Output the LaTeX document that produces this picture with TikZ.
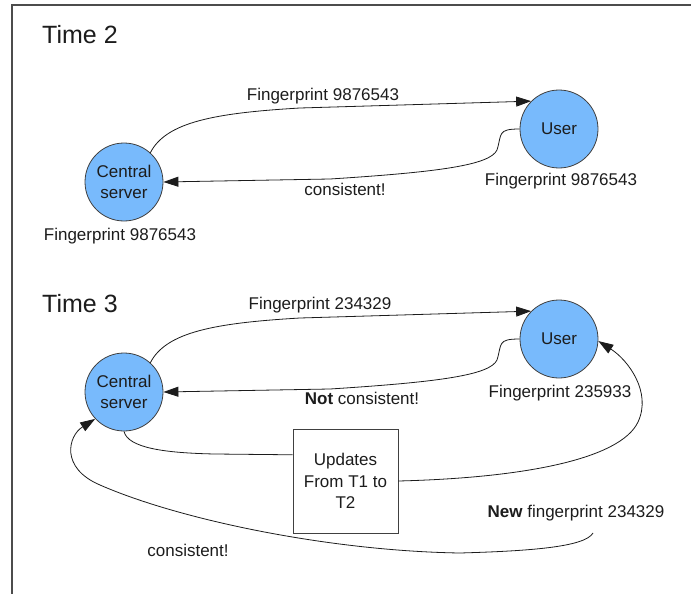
\documentclass[tikz,border=0pt]{standalone}
\usepackage{fontspec}
\setmainfont{Liberation Sans}
\usetikzlibrary{arrows.meta,calc}
\definecolor{nodeblue}{RGB}{120,186,252}
\definecolor{ink}{RGB}{28,28,28}
\begin{document}
\begin{tikzpicture}[x=1pt,y=-1pt,
  every node/.style={text=ink, font=\fontsize{17}{21.5}\selectfont, inner sep=0pt},
  peer/.style={circle, draw=black!75, line width=0.8pt, fill=nodeblue, minimum size=78pt, align=center},
  updbox/.style={draw=black!75, line width=0.8pt, minimum width=105pt, minimum height=104pt, align=center},
  link/.style={draw=ink, line width=0.8pt},
  arr/.style={link, -{Triangle[length=15pt,width=10pt]}},
  title/.style={font=\fontsize{25}{30}\selectfont, anchor=base west},
  lbl/.style={anchor=base},
  frame/.style={draw=black!70, line width=1.5pt}]

\useasboundingbox (0,0) rectangle (691,594);
\draw[frame] (691,5) -- (12,5) -- (12,594);

% ---------- Time 2 ----------
\node[title] (t2) at (42,44) {Time 2};
\node[peer] (cs1) at (124,182) {Central\\server};
\node[peer] (u1) at (559,129) {User};
\node[lbl] (fpa) at (323,100) {Fingerprint 9876543};
\node[lbl] (fpu1) at (561,185) {Fingerprint 9876543};
\node[lbl] (fpc1) at (120,240) {Fingerprint 9876543};
\node[lbl] (ok1) at (345,195) {consistent!};

\draw[arr] (cs1.48) .. controls (166,122) and (215,113) .. (300,108) -- (u1.135);
\draw[arr] (u1.west) .. controls (497,129) and (502,134) .. (497,150)
  .. controls (490,165) and (440,172) .. (330,179) -- (cs1.east);

% ---------- Time 3 ----------
\node[title] (t3) at (42,312) {Time 3};
\node[peer] (cs2) at (124,392) {Central\\server};
\node[peer] (u2) at (559,339) {User};
\node[lbl] (fpb) at (320,309) {Fingerprint 234329};
\node[lbl] (fpu2) at (560,397) {Fingerprint 235933};
\node[lbl] (nok) at (362,404) {\textbf{Not} consistent!};
\node[updbox] (upd) at (345.5,481) {Updates\\From T1 to\\T2};
\node[lbl] (newfp) at (576,517) {\textbf{New} fingerprint 234329};
\node[lbl] (ok2) at (188,556) {consistent!};
\coordinate (nfstart) at (593,533);

\draw[arr] (cs2.48) .. controls (166,332) and (215,323) .. (300,318) -- (u2.135);
\draw[arr] (u2.west) .. controls (497,339) and (502,344) .. (497,360)
  .. controls (490,375) and (440,382) .. (330,389) -- (cs2.east);

% old fingerprint and updates feed the box, which feeds the user
\draw[link] (cs2.south) .. controls (128,448) and (165,453) .. (215,454)
  -- ($(upd.north west)!0.25!(upd.south west)$);
\draw[arr] (upd.east) .. controls (520,478) and (620,460) .. (638,422)
  .. controls (652,392) and (628,360) .. (u2.-3);

% new fingerprint returned to the server
\draw[arr] (nfstart) .. controls (585,547) and (530,551) .. (460,553)
  .. controls (330,551) and (180,520) .. (100,485)
  .. controls (60,468) and (68,436) .. (cs2.223);
\end{tikzpicture}
\end{document}
